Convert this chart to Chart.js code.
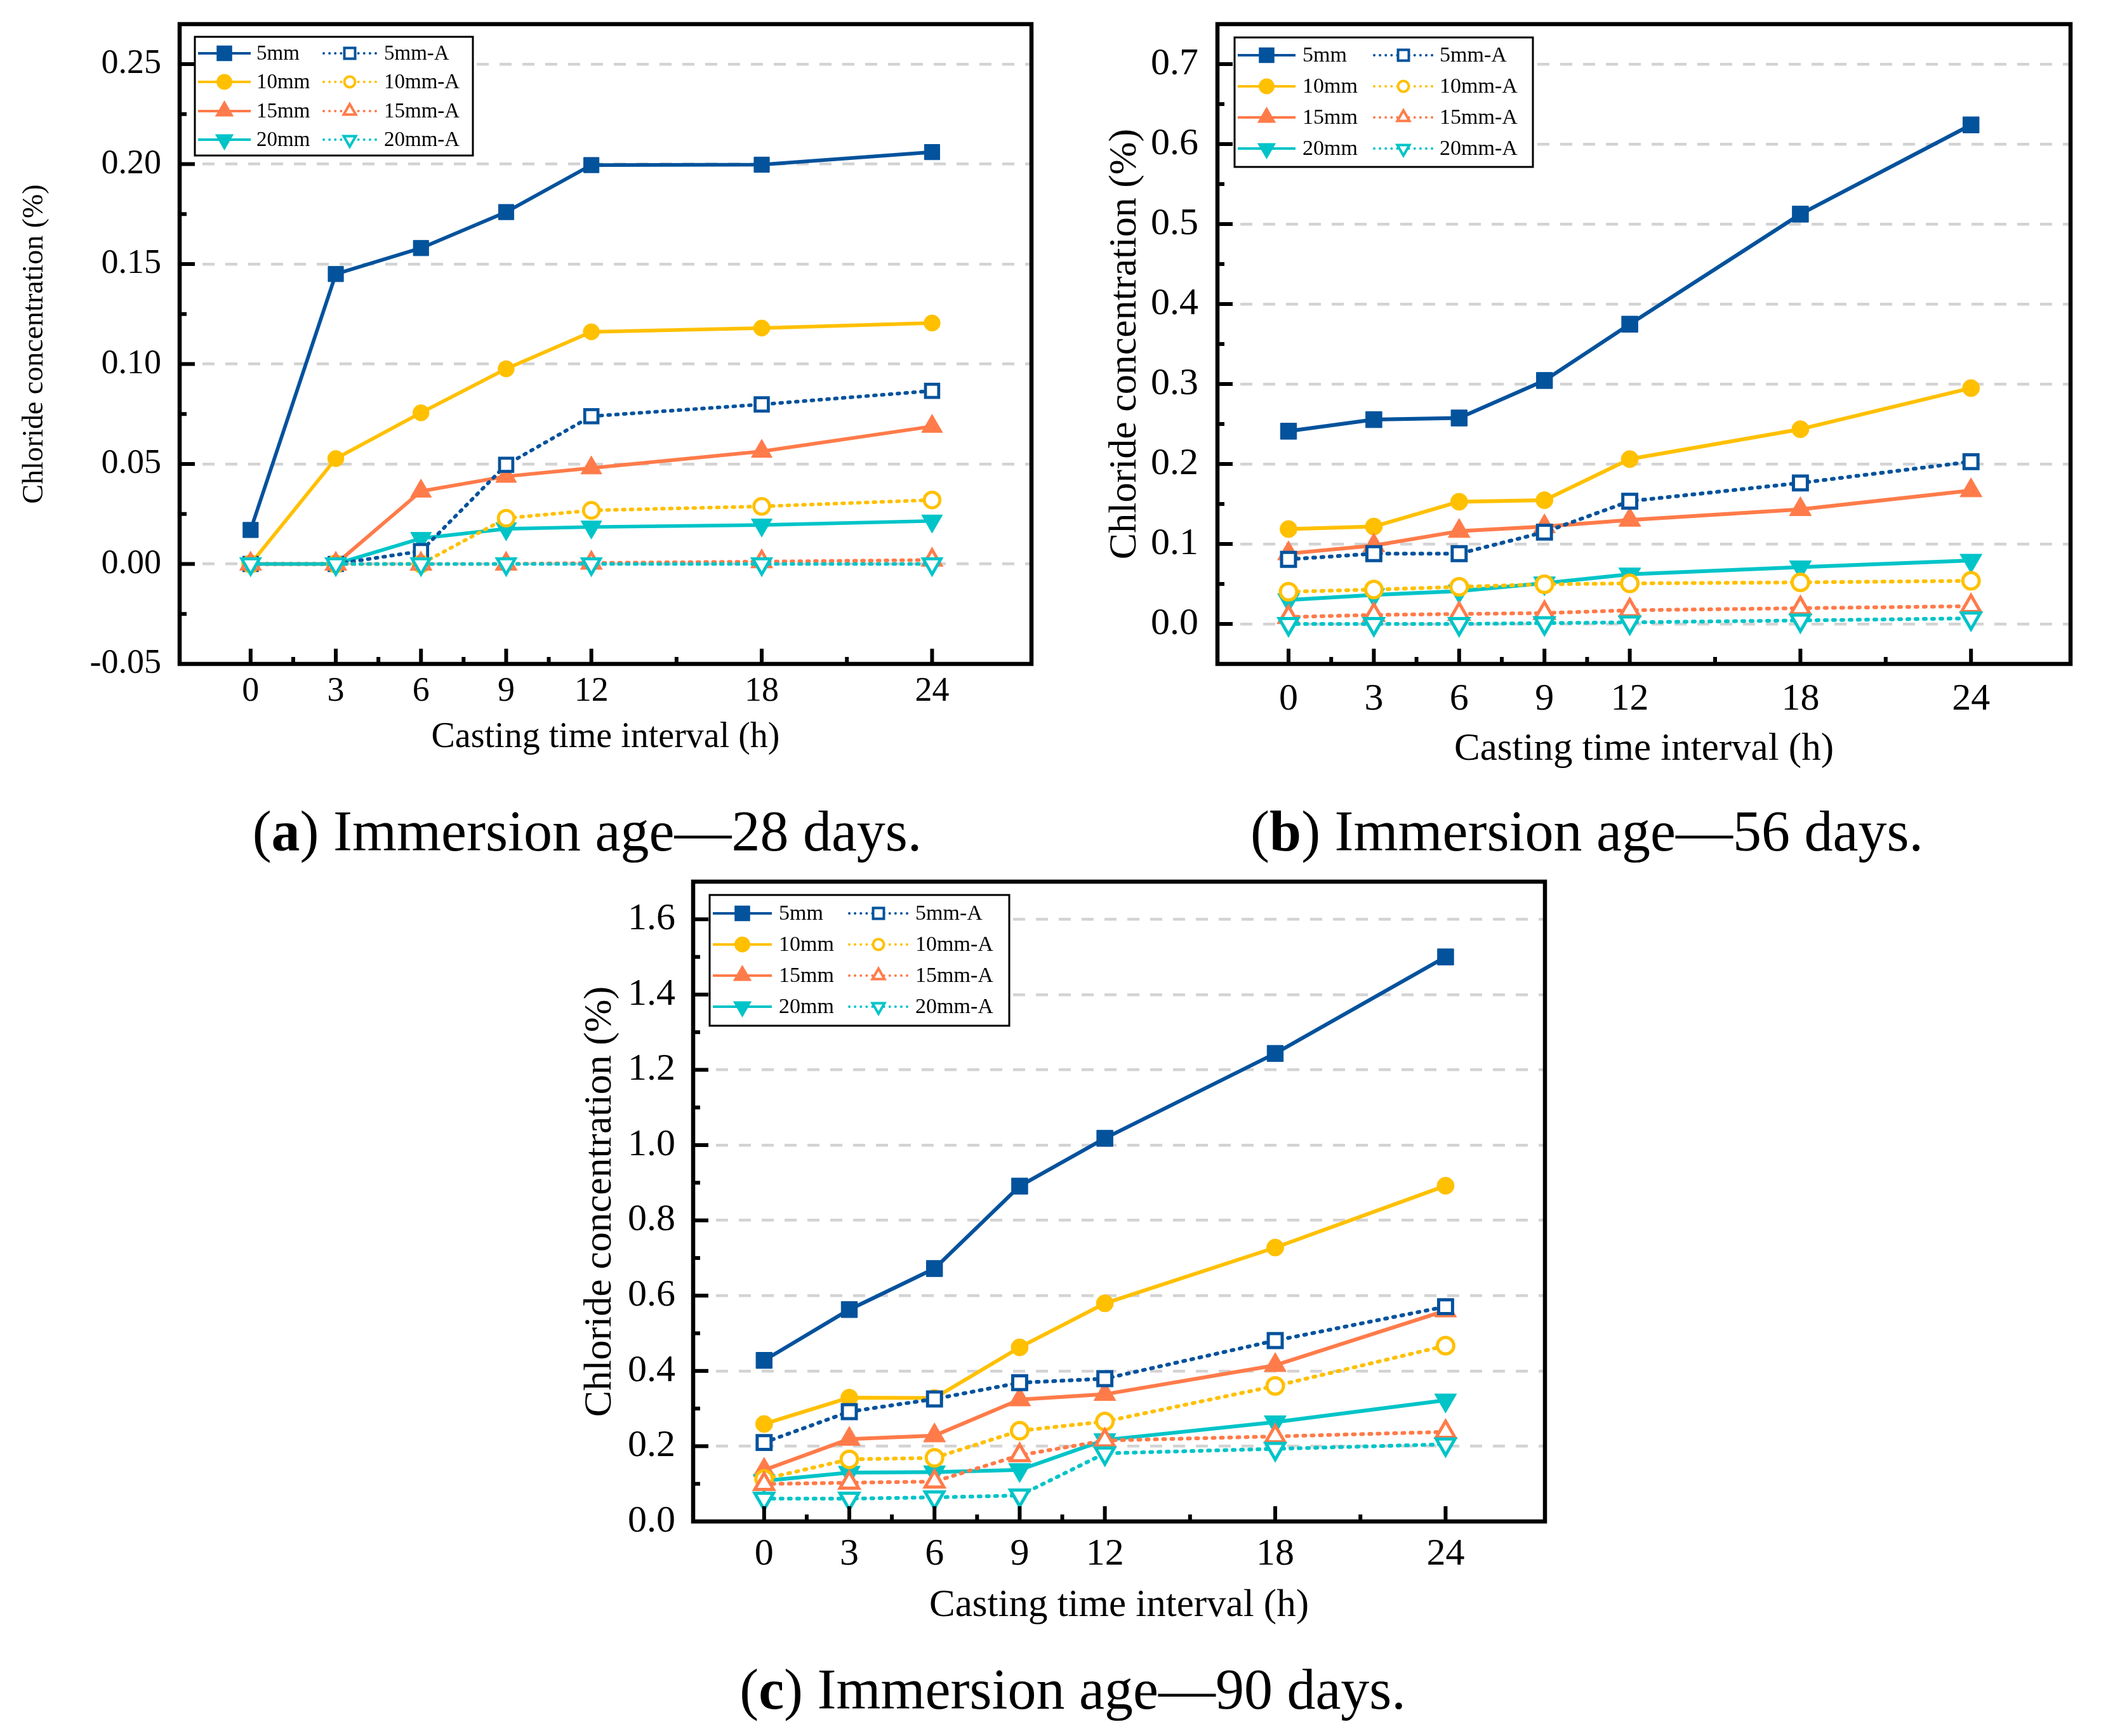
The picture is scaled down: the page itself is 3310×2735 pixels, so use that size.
<!DOCTYPE html>
<html>
<head>
<meta charset="utf-8">
<script src="https://cdn.jsdelivr.net/npm/chart.js@4.4.1/dist/chart.umd.min.js"></script>
<style>
html,body{margin:0;padding:0;background:#fff;}
body{width:3310px;height:2735px;position:relative;overflow:hidden;}
.panel{position:absolute;}
.panel canvas{display:block;}
.cap{position:absolute;font-family:"Liberation Serif",serif;font-size:90px;line-height:1;white-space:nowrap;color:#000;transform:translateX(-50%);}
</style>
</head>
<body>
<div class="panel" style="left:0px;top:-40px;width:1655px;height:1270px"><canvas id="ca" width="1655" height="1270"></canvas></div>
<div class="panel" style="left:1655px;top:-40px;width:1655px;height:1290px"><canvas id="cb" width="1655" height="1290"></canvas></div>
<div class="panel" style="left:820px;top:1320px;width:1700px;height:1290px"><canvas id="cc" width="1700" height="1290"></canvas></div>
<div class="cap" style="left:925px;top:1265px">(<b>a</b>) Immersion age—28 days.</div>
<div class="cap" style="left:2500px;top:1265px">(<b>b</b>) Immersion age—56 days.</div>
<div class="cap" style="left:1690px;top:2617px">(<b>c</b>) Immersion age—90 days.</div>
<script>
// ---------------- DATA ----------------
const HOURS = [0, 3, 6, 9, 12, 18, 24];
const X_TICKS = [0, 3, 6, 9, 12, 18, 24];
const SERIES_LABELS = ['5mm', '10mm', '15mm', '20mm', '5mm-A', '10mm-A', '15mm-A', '20mm-A'];

// (a) Immersion age 28 days
const A_5mm   = [0.017, 0.145, 0.158, 0.176, 0.1995, 0.1997, 0.206];
const A_10mm  = [0.000, 0.0527, 0.0756, 0.0976, 0.1161, 0.118, 0.1205];
const A_15mm  = [0.000, 0.000, 0.0364, 0.0438, 0.048, 0.0563, 0.0688];
const A_20mm  = [0.000, 0.000, 0.0128, 0.0176, 0.0185, 0.0195, 0.0215];
const A_5mmA  = [0.000, 0.000, 0.0064, 0.0496, 0.0739, 0.0798, 0.0866];
const A_10mmA = [0.000, 0.000, 0.000, 0.0229, 0.0268, 0.0288, 0.032];
const A_15mmA = [0.000, 0.000, 0.000, 0.000, 0.0005, 0.0012, 0.002];
const A_20mmA = [0.000, 0.000, 0.000, 0.000, 0.000, 0.000, 0.000];
const A_Y_TICKS = [-0.05, 0.00, 0.05, 0.10, 0.15, 0.20, 0.25];

// (b) Immersion age 56 days
const B_5mm   = [0.241, 0.2555, 0.2575, 0.3044, 0.3748, 0.5124, 0.624];
const B_10mm  = [0.1186, 0.1218, 0.1528, 0.1547, 0.2061, 0.2435, 0.2949];
const B_15mm  = [0.088, 0.098, 0.116, 0.1218, 0.130, 0.1433, 0.1668];
const B_20mm  = [0.030, 0.0364, 0.041, 0.051, 0.0621, 0.071, 0.0793];
const B_5mmA  = [0.0808, 0.0879, 0.0879, 0.1148, 0.1535, 0.1763, 0.2029];
const B_10mmA = [0.0403, 0.043, 0.0464, 0.0496, 0.0507, 0.052, 0.0539];
const B_15mmA = [0.0086, 0.0113, 0.0125, 0.0136, 0.0171, 0.0197, 0.0222];
const B_20mmA = [0.000, 0.000, 0.000, 0.001, 0.002, 0.0044, 0.007];
const B_Y_TICKS = [0.0, 0.1, 0.2, 0.3, 0.4, 0.5, 0.6, 0.7];

// (c) Immersion age 90 days
const C_5mm   = [0.428, 0.563, 0.672, 0.891, 1.018, 1.2435, 1.500];
const C_10mm  = [0.259, 0.329, 0.328, 0.4626, 0.5796, 0.7277, 0.892];
const C_15mm  = [0.1366, 0.219, 0.228, 0.3238, 0.338, 0.415, 0.560];
const C_20mm  = [0.108, 0.130, 0.131, 0.137, 0.2165, 0.264, 0.322];
const C_5mmA  = [0.2097, 0.2917, 0.3254, 0.3687, 0.3794, 0.4806, 0.5707];
const C_10mmA = [0.113, 0.165, 0.169, 0.241, 0.2655, 0.360, 0.467];
const C_15mmA = [0.0995, 0.103, 0.106, 0.176, 0.215, 0.226, 0.238];
const C_20mmA = [0.0607, 0.0607, 0.064, 0.069, 0.181, 0.193, 0.205];
const C_Y_TICKS = [0.0, 0.2, 0.4, 0.6, 0.8, 1.0, 1.2, 1.4, 1.6];

// ---------------- STYLE ----------------
const FONT = '"Liberation Serif", "Times New Roman", serif';
const COLORS = ['#03529C', '#FFC000', '#FF7B4A', '#00C4C8'];
const SHAPES = [
  {style: 'rect', rot: 0, rF: 18, rO: 15.5, rLF: 14.5, rLO: 12},
  {style: 'circle', rot: 0, rF: 13.5, rO: 13, rLF: 10.5, rLO: 8.5},
  {style: 'triangle', rot: 0, rF: 20, rO: 17, rLF: 13, rLO: 11},
  {style: 'triangle', rot: 180, rF: 20, rO: 17, rLF: 13, rLO: 11}
];

function makeDatasets(arrays, k) {
  return arrays.map((vals, i) => {
    const open = i >= 4;
    const s = SHAPES[i % 4];
    const c = COLORS[i % 4];
    return {
      label: SERIES_LABELS[i],
      data: HOURS.map((h, j) => ({x: h, y: vals[j]})),
      borderColor: c,
      backgroundColor: open ? '#ffffff' : c,
      borderWidth: 6 * k,
      borderDash: open ? [3 * k, 10 * k] : [],
      borderCapStyle: open ? 'round' : 'butt',
      borderJoinStyle: 'round',
      pointStyle: s.style,
      pointRotation: s.rot,
      pointRadius: (open ? s.rO : s.rF) * k,
      pointHoverRadius: (open ? s.rO : s.rF) * k,
      pointBackgroundColor: open ? '#ffffff' : c,
      pointBorderColor: c,
      pointBorderWidth: open ? 5 * k : 1,
      tension: 0,
      fill: false,
      order: 8 - i,
      _open: open,
      _shape: s
    };
  });
}

function midpoints(arr) {
  const out = [];
  for (let i = 0; i < arr.length - 1; i++) out.push((arr[i] + arr[i + 1]) / 2);
  return out;
}

const framePlugin = {
  id: 'frameTicks',
  afterDatasetsDraw(chart) {
    const o = chart.options.plugins.frameTicks;
    const {ctx, chartArea: a} = chart;
    const xs = chart.scales.x, ys = chart.scales.y;
    ctx.save();
    ctx.strokeStyle = '#000';
    ctx.lineCap = 'butt';
    ctx.setLineDash([]);
    ctx.lineWidth = 6;
    const xMaj = X_TICKS, xMin = midpoints(X_TICKS);
    const yMaj = o.yTicks, yMin = midpoints(o.yTicks);
    const tx = (v, len) => { const p = xs.getPixelForValue(v); ctx.beginPath(); ctx.moveTo(p, a.bottom); ctx.lineTo(p, a.bottom - len); ctx.stroke(); };
    const ty = (v, len) => { const p = ys.getPixelForValue(v); ctx.beginPath(); ctx.moveTo(a.left, p); ctx.lineTo(a.left + len, p); ctx.stroke(); };
    xMaj.forEach(v => tx(v, 24)); xMin.forEach(v => tx(v, 11));
    yMaj.forEach(v => ty(v, 24)); yMin.forEach(v => ty(v, 11));
    ctx.lineWidth = 6.5;
    ctx.strokeRect(a.left, a.top, a.right - a.left, a.bottom - a.top);
    ctx.restore();
  },
  afterDraw(chart) {
    const L = chart.options.plugins.frameTicks.legend;
    const ctx = chart.ctx;
    ctx.save();
    ctx.setLineDash([]);
    ctx.fillStyle = '#fff';
    ctx.fillRect(L.x, L.y, L.w, L.h);
    ctx.strokeStyle = '#000';
    ctx.lineWidth = 3;
    ctx.strokeRect(L.x, L.y, L.w, L.h);
    ctx.font = L.font + 'px ' + FONT;
    ctx.textBaseline = 'middle';
    ctx.textAlign = 'left';
    chart.data.datasets.forEach((ds, i) => {
      const col = i < 4 ? L.col1 : L.col2;
      const y = L.rows[i % 4];
      const open = ds._open;
      const s = ds._shape;
      ctx.strokeStyle = ds.borderColor;
      ctx.lineWidth = 4;
      ctx.lineCap = open ? 'round' : 'butt';
      ctx.setLineDash(open ? [0.1, 9] : []);
      ctx.beginPath(); ctx.moveTo(col[0], y); ctx.lineTo(col[1], y); ctx.stroke();
      ctx.setLineDash([]);
      const mx = (col[0] + col[1]) / 2;
      ctx.fillStyle = open ? '#fff' : ds.borderColor;
      ctx.strokeStyle = ds.borderColor;
      const opts = {pointStyle: s.style, rotation: s.rot, radius: open ? s.rLO : s.rLF, borderWidth: open ? 4 : 1};
      Chart.helpers.drawPoint(ctx, opts, mx, y);
      ctx.fillStyle = '#000';
      ctx.fillText(ds.label, col[2], y + 1);
    });
    ctx.restore();
  }
};

function makeChart(id, cfg) {
  const yMin = cfg.yMin;
  return new Chart(document.getElementById(id), {
    type: 'line',
    data: {datasets: makeDatasets(cfg.arrays, cfg.k)},
    options: {
      responsive: false,
      animation: false,
      devicePixelRatio: 1,
      events: [],
      layout: {autoPadding: false, padding: cfg.pad},
      plugins: {
        legend: {display: false},
        tooltip: {enabled: false},
        frameTicks: {yTicks: cfg.yTicks, legend: cfg.legend}
      },
      scales: {
        x: {
          type: 'linear', min: -2.5, max: 27.5,
          afterBuildTicks: s => { s.ticks = X_TICKS.map(v => ({value: v})); },
          afterFit: s => { s.height = cfg.xH; },
          grid: {display: false, drawTicks: false},
          border: {display: false},
          ticks: {color: '#000', padding: cfg.xTickPad, maxRotation: 0, autoSkip: false,
                  font: {family: FONT, size: cfg.tickSize, lineHeight: 1},
                  callback: v => String(v)},
          title: {display: true, text: 'Casting time interval (h)', color: '#000',
                  font: {family: FONT, size: cfg.xTitleSize, lineHeight: 1},
                  padding: {top: 0, bottom: cfg.xTitlePad}}
        },
        y: {
          type: 'linear', min: cfg.yMin, max: cfg.yMax,
          afterBuildTicks: s => { s.ticks = cfg.yTicks.map(v => ({value: v})); },
          afterFit: s => { s.width = cfg.yW; },
          grid: {drawTicks: false, lineWidth: 4.5,
                 color: c => (c.tick && Math.abs(c.tick.value - yMin) < 1e-9) ? 'rgba(0,0,0,0)' : '#D3D3D3'},
          border: {display: false, dash: [19, 17]},
          ticks: {color: '#000', padding: cfg.yTickPad, autoSkip: false,
                  font: {family: FONT, size: cfg.tickSize, lineHeight: 1},
                  callback: v => Number(v).toFixed(cfg.dec)},
          title: {display: true, text: 'Chloride concentration (%)', color: '#000',
                  font: {family: FONT, size: cfg.yTitleSize, lineHeight: 1},
                  padding: {top: cfg.yTitlePad, bottom: 0}}
        }
      }
    },
    plugins: [framePlugin]
  });
}

makeChart('ca', {
  arrays: [A_5mm, A_10mm, A_15mm, A_20mm, A_5mmA, A_10mmA, A_15mmA, A_20mmA],
  k: 0.95, yMin: -0.05, yMax: 0.27, yTicks: A_Y_TICKS, dec: 2,
  pad: {left: 10, right: 30, top: 78, bottom: 24},
  yW: 273, xH: 160, tickSize: 54, xTitleSize: 56, yTitleSize: 46,
  xTickPad: 17, yTickPad: 29, xTitlePad: 16, yTitlePad: 22,
  legend: {x: 307, y: 98, w: 438, h: 187, rows: [124, 169, 215, 260],
           col1: [312, 395, 404], col2: [510, 592, 605], font: 33}
});

makeChart('cb', {
  arrays: [B_5mm, B_10mm, B_15mm, B_20mm, B_5mmA, B_10mmA, B_15mmA, B_20mmA],
  k: 1, yMin: -0.05, yMax: 0.75, yTicks: B_Y_TICKS, dec: 1,
  pad: {left: 10, right: 48, top: 78, bottom: 24},
  yW: 253, xH: 180, tickSize: 60, xTitleSize: 61, yTitleSize: 62,
  xTickPad: 26, yTickPad: 30, xTitlePad: 15, yTitlePad: 77,
  legend: {x: 290, y: 99, w: 470, h: 204, rows: [127, 176, 225, 274],
           col1: [295, 386, 397], col2: [510, 602, 613], font: 34}
});

makeChart('cc', {
  arrays: [C_5mm, C_10mm, C_15mm, C_20mm, C_5mmA, C_10mmA, C_15mmA, C_20mmA],
  k: 1, yMin: 0, yMax: 1.7, yTicks: C_Y_TICKS, dec: 1,
  pad: {left: 10, right: 86, top: 69, bottom: 33},
  yW: 262, xH: 180, tickSize: 60, xTitleSize: 61, yTitleSize: 62,
  xTickPad: 22, yTickPad: 28, xTitlePad: 17, yTitlePad: 85,
  legend: {x: 298, y: 90, w: 472, h: 206, rows: [119, 168, 217, 266],
           col1: [303, 396, 407], col2: [518, 610, 622], font: 34}
});
</script>
</body>
</html>
